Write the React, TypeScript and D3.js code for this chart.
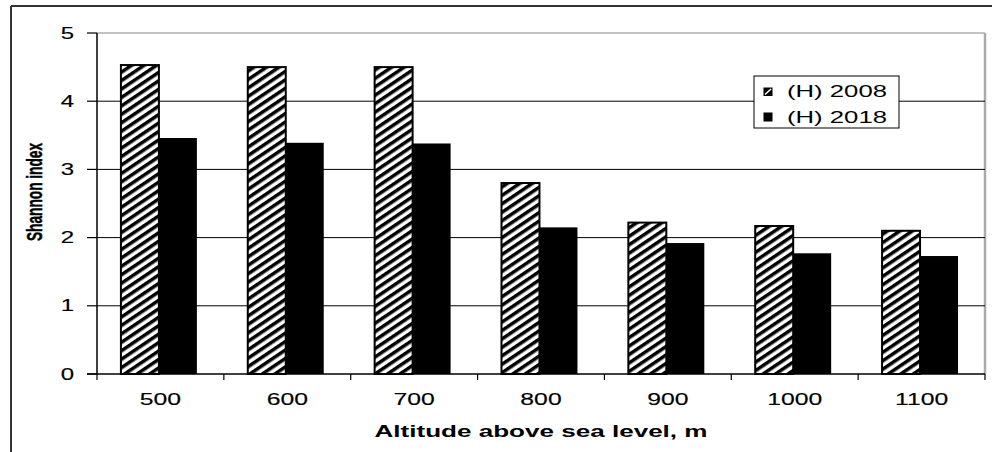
import React from "react";
import * as d3 from "d3";

const categories = ["500", "600", "700", "800", "900", "1000", "1100"];
const series2008 = [4.53, 4.5, 4.5, 2.8, 2.22, 2.17, 2.1];
const series2018 = [3.46, 3.39, 3.38, 2.15, 1.92, 1.77, 1.73];
const seriesNames = ["(H) 2008", "(H) 2018"];
const yTicks = [0, 1, 2, 3, 4, 5];

const W = 992;
const H = 452;
const left = 97;
const right = 985;
const top = 33;
const bottom = 374;
const SX = 1.5;
const FONT = "'Liberation Sans', Arial, sans-serif";

export default function App() {
  const x = d3.scaleBand<string>().domain(categories).range([left, right]).padding(0);
  const inner = d3
    .scaleBand<string>()
    .domain(seriesNames)
    .range([0, x.bandwidth()])
    .paddingInner(0)
    .paddingOuter(0.67)
    .align(0.47);
  const y = d3.scaleLinear().domain([0, 5]).range([bottom, top]);

  const boundaries = categories.map((c) => x(c)!).concat([right]);

  const txt = (
    key: string,
    tx: number,
    ty: number,
    s: string,
    size: number,
    anchor: string
  ) => (
    <text
      key={key}
      transform={`translate(${tx},${ty}) scale(${SX},1)`}
      fontFamily={FONT}
      fontSize={size}
      textAnchor={anchor}
      fill="#000"
      stroke="#000"
      strokeWidth={0.15}
    >
      {s}
    </text>
  );

  return (
    <svg width={W} height={H} style={{ position: "absolute", left: 0, top: 0, background: "#fff" }}>
      <defs>
        <pattern
          id="hatch"
          patternUnits="userSpaceOnUse"
          width={8}
          height={7}
          patternTransform="rotate(-34)"
        >
          <rect x={0} y={0} width={8} height={7} fill="#fff" />
          <rect x={0} y={0} width={8} height={3.5} fill="#000" />
        </pattern>
      </defs>
      <rect x={0} y={0} width={W} height={H} fill="#fff" />
      {/* outer frame */}
      <line x1={11} y1={6} x2={W} y2={6} stroke="#333" strokeWidth={2} />
      <line x1={11} y1={6} x2={11} y2={H} stroke="#333" strokeWidth={2} />

      {/* plot area border */}
      <line x1={left} y1={top} x2={right} y2={top} stroke="#888" strokeWidth={1.2} />
      <line x1={right} y1={top} x2={right} y2={bottom} stroke="#aaa" strokeWidth={2.5} />

      {/* gridlines */}
      {yTicks
        .filter((t) => t > 0 && t < 5)
        .map((t) => (
          <line key={"g" + t} x1={left} x2={right} y1={y(t)} y2={y(t)} stroke="#000" strokeWidth={1} />
        ))}

      {/* bars */}
      {categories.map((c, i) => (
        <g key={"b" + c}>
          <rect
            x={x(c)! + inner(seriesNames[0])!}
            y={y(series2008[i])}
            width={inner.bandwidth()}
            height={bottom - y(series2008[i])}
            fill="url(#hatch)"
            stroke="#000"
            strokeWidth={2}
          />
          <rect
            x={x(c)! + inner(seriesNames[1])!}
            y={y(series2018[i])}
            width={inner.bandwidth()}
            height={bottom - y(series2018[i])}
            fill="#000"
          />
        </g>
      ))}

      {/* axes */}
      <line x1={left} y1={top} x2={left} y2={bottom} stroke="#000" strokeWidth={1.5} />
      <line x1={87} y1={bottom} x2={right} y2={bottom} stroke="#000" strokeWidth={1.5} />
      {yTicks.map((t) => (
        <line key={"yt" + t} x1={87} x2={left} y1={y(t)} y2={y(t)} stroke="#000" strokeWidth={1.2} />
      ))}
      {boundaries.map((bx, i) => (
        <line key={"xt" + i} x1={bx} x2={bx} y1={bottom} y2={bottom + 6} stroke="#000" strokeWidth={1.2} />
      ))}

      {/* y tick labels */}
      {yTicks.map((t) => txt("yl" + t, 74, y(t) + 5.5, String(t), 16, "end"))}
      {/* x tick labels */}
      {categories.map((c) => txt("xl" + c, x(c)! + x.bandwidth() / 2, 405, c, 16.5, "middle"))}

      {/* axis titles */}
      <text
        x={541}
        y={437}
        fontFamily={FONT}
        fontSize={16.5}
        fontWeight="bold"
        textAnchor="middle"
        textLength={333}
        lengthAdjust="spacingAndGlyphs"
      >
        Altitude above sea level, m
      </text>
      <text
        transform={`translate(42,192) scale(1.6,1) rotate(-90)`}
        fontFamily={FONT}
        fontSize={13.7}
        fontWeight="bold"
        textAnchor="middle"
        stroke="#000"
        strokeWidth={0.3}
      >
        Shannon index
      </text>

      {/* legend */}
      <rect x={754} y={76} width={145} height={52} fill="#fff" stroke="#000" strokeWidth={1} />
      <rect x={763.5} y={87.5} width={9} height={8.5} fill="#000" />
      <line x1={765} y1={94.5} x2={771} y2={89} stroke="#fff" strokeWidth={1.6} />
      <rect x={763.5} y={112.5} width={9} height={9} fill="#000" />
      <text x={787} y={97} fontFamily={FONT} fontSize={16.5} textLength={100} lengthAdjust="spacingAndGlyphs">
        {seriesNames[0]}
      </text>
      <text x={787} y={123} fontFamily={FONT} fontSize={16.5} textLength={100} lengthAdjust="spacingAndGlyphs">
        {seriesNames[1]}
      </text>
    </svg>
  );
}
